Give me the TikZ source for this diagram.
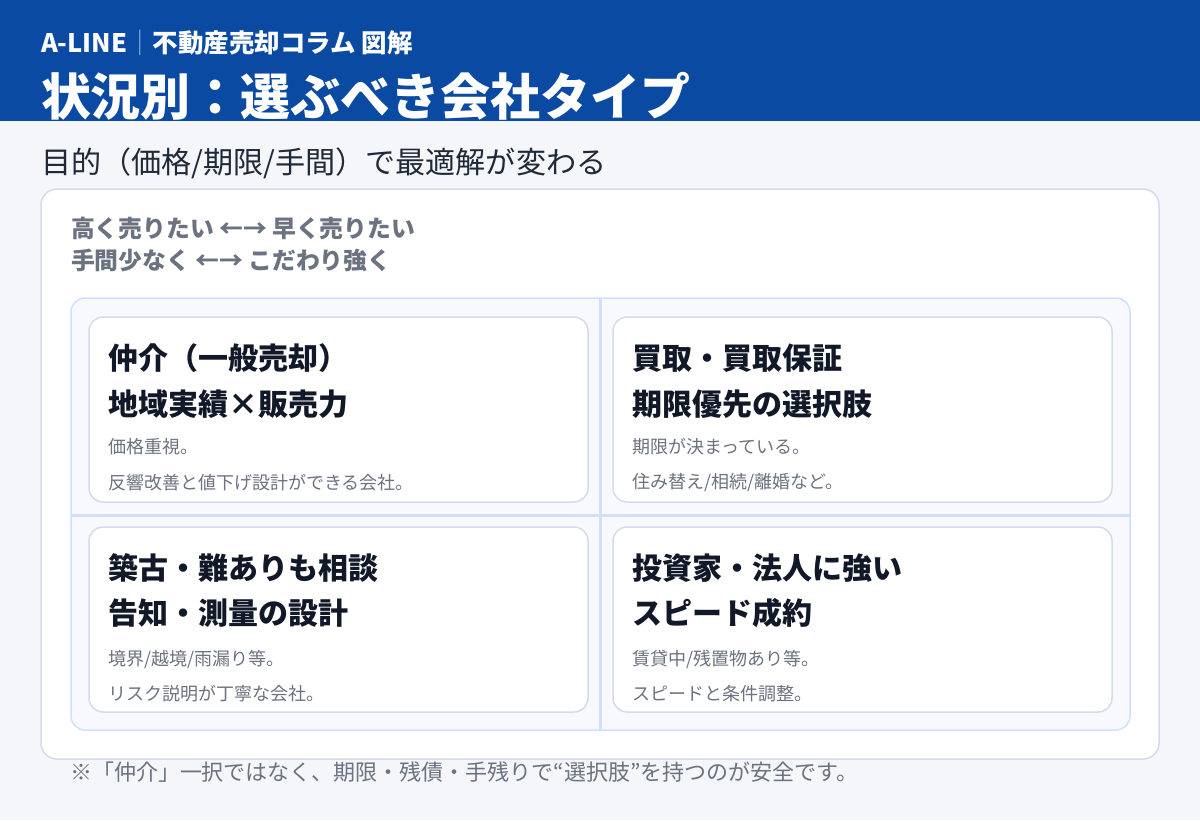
\documentclass[tikz,border=0pt]{standalone}
\usepackage{fontspec}
\setmainfont{Noto Sans CJK JP}
\definecolor{headblue}{HTML}{0B4AA2}
\definecolor{bgcol}{HTML}{F4F6FA}
\definecolor{cardline}{HTML}{D5DBE8}
\definecolor{panelfill}{HTML}{F7F9FE}
\definecolor{panelline}{HTML}{CFE0FB}
\definecolor{darktext}{HTML}{111827}
\definecolor{subtext}{HTML}{1F2937}
\definecolor{graytext}{HTML}{6B7280}
\begin{document}
\begin{tikzpicture}[x=1pt,y=-1pt,
  txt/.style={anchor=west,inner sep=0pt,outer sep=0pt},
  cardtitle/.style={txt,text=darktext,font=\fontsize{30}{35}\selectfont\bfseries},
  cardnote/.style={txt,text=graytext,font=\fontsize{18}{21}\selectfont},
  axistext/.style={txt,text=graytext,font=\fontsize{23.8}{28}\selectfont\bfseries},
  cardbox/.style={draw=cardline,fill=white,line width=1.5pt,rounded corners=14pt,
    minimum width=499pt,minimum height=185pt,inner sep=0pt},
  divider/.style={draw=panelline,line width=3pt}
]
\useasboundingbox (0,0) rectangle (1200,820);
\fill[bgcol] (0,0) rectangle (1200,820);
\fill[headblue] (0,0) rectangle (1200,121);

\node[txt,text=white,font=\fontsize{25.5}{30}\selectfont\bfseries] (brand) at (41,43)
  {A-LINE{\color{white!55!headblue}\mdseries｜}不動産売却コラム 図解};
\node[txt,text=white,font=\fontsize{50}{58}\selectfont\bfseries] (title) at (41,96)
  {状況別：選ぶべき会社タイプ};
\node[txt,text=subtext,font=\fontsize{30.1}{35}\selectfont] (subtitle) at (41,163)
  {目的（価格/期限/手間）で最適解が変わる};

% outer card
\draw[draw=cardline,fill=white,line width=1.5pt,rounded corners=16pt]
  (41,189) rectangle (1159,759);

\node[axistext] (axis1) at (71,228) {高く売りたい ←→ 早く売りたい};
\node[axistext] (axis2) at (71,260) {手間少なく ←→ こだわり強く};

% grid panel
\draw[draw=panelline,fill=panelfill,line width=1.5pt,rounded corners=14pt]
  (71,298) rectangle (1130,730);
\coordinate (vtop) at (600.5,298);
\coordinate (vbot) at (600.5,730);
\coordinate (hleft) at (71,515);
\coordinate (hright) at (1130,515);
\draw[divider] (vtop) -- (vbot);
\draw[divider] (hleft) -- (hright);

% cards
\node[cardbox] (c1) at (338.5,409.5) {};
\node[cardbox] (c2) at (862.5,409.5) {};
\node[cardbox] (c3) at (338.5,619.5) {};
\node[cardbox] (c4) at (862.5,619.5) {};

\node[cardtitle] (c1t1) at (108,358) {仲介（一般売却）};
\node[cardtitle] (c1t2) at (108,404) {地域実績×販売力};
\node[cardnote] (c1n1) at (108,447) {価格重視。};
\node[cardnote] (c1n2) at (108,483) {反響改善と値下げ設計ができる会社。};

\node[cardtitle] (c2t1) at (632,358) {買取・買取保証};
\node[cardtitle] (c2t2) at (632,404) {期限優先の選択肢};
\node[cardnote] (c2n1) at (632,447) {期限が決まっている。};
\node[cardnote] (c2n2) at (632,483) {住み替え/相続/離婚など。};

\node[cardtitle] (c3t1) at (108,568) {築古・難ありも相談};
\node[cardtitle] (c3t2) at (108,613) {告知・測量の設計};
\node[cardnote] (c3n1) at (108,659) {境界/越境/雨漏り等。};
\node[cardnote] (c3n2) at (108,694) {リスク説明が丁寧な会社。};

\node[cardtitle] (c4t1) at (632,568) {投資家・法人に強い};
\node[cardtitle] (c4t2) at (632,613) {スピード成約};
\node[cardnote] (c4n1) at (632,659) {賃貸中/残置物あり等。};
\node[cardnote] (c4n2) at (632,694) {スピードと条件調整。};

\node[txt,text=graytext,font=\fontsize{22}{26}\selectfont] (foot) at (70,772)
  {※「仲介」一択ではなく、期限・残債・手残りで“選択肢”を持つのが安全です。};
\end{tikzpicture}
\end{document}
